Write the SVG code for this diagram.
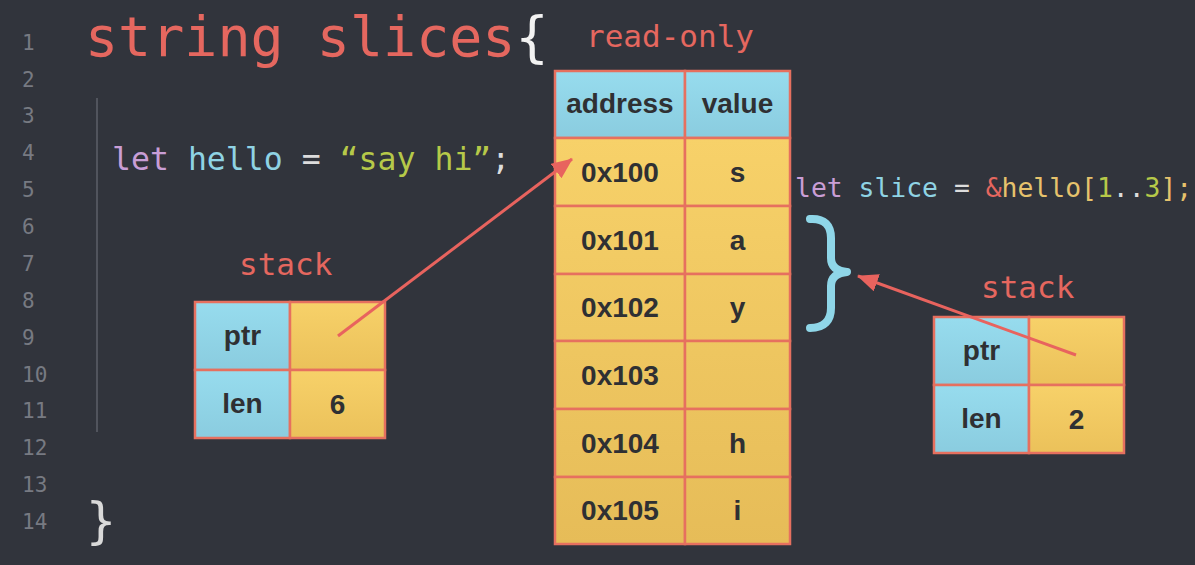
<svg xmlns="http://www.w3.org/2000/svg" width="1195" height="565" viewBox="0 0 1195 565">
<defs>
<linearGradient id="yel" x1="0" y1="0" x2="0" y2="1"><stop offset="0" stop-color="#f7d169"/><stop offset="1" stop-color="#ebc15a"/></linearGradient>
<linearGradient id="cya" x1="0" y1="0" x2="0" y2="1"><stop offset="0" stop-color="#97dcee"/><stop offset="1" stop-color="#8accdf"/></linearGradient>
<linearGradient id="tyel" gradientUnits="userSpaceOnUse" x1="0" y1="138" x2="0" y2="544"><stop offset="0" stop-color="#f7d169"/><stop offset="1" stop-color="#e6bc58"/></linearGradient>
<marker id="ah" markerUnits="userSpaceOnUse" markerWidth="24" markerHeight="20" refX="20" refY="9" orient="auto"><path d="M0,0 L21,9 L0,18 Z" fill="#e8635e"/></marker>
<style>
.mono{font-family:"DejaVu Sans Mono","Liberation Mono",monospace}
.ln{fill:#777a82;font-size:21px}
.red{fill:#e5675f}
.cell{stroke:#e6705f;stroke-width:2.5}
.lbl{font-family:"Liberation Sans",Arial,sans-serif;font-weight:bold;font-size:28px;fill:#2f3033;text-anchor:middle}
.kw{fill:#c99ed6}.id{fill:#8fd3e4}.op{fill:#dcdcdc}.str{fill:#b6c949}.yl{fill:#e6c26c}
.conn{stroke:#e8635e;stroke-width:3;fill:none}
</style>
</defs>
<rect width="1195" height="565" fill="#31343c"/>
<g id="line-numbers" class="mono ln">
<text x="22" y="50">1</text><text x="22" y="87">2</text><text x="22" y="123">3</text><text x="22" y="160">4</text><text x="22" y="197">5</text><text x="22" y="234">6</text><text x="22" y="271">7</text><text x="22" y="308">8</text><text x="22" y="345">9</text><text x="22" y="382">10</text><text x="22" y="418">11</text><text x="22" y="455">12</text><text x="22" y="492">13</text><text x="22" y="529">14</text>
</g>
<g id="title"><text class="mono" x="85" y="56" font-size="55"><tspan class="red">string slices</tspan><tspan fill="#f2f2f2">{</tspan></text></g>
<line x1="97" y1="98" x2="97" y2="432" stroke="#5c5f68" stroke-width="1.5"/>
<g id="code-hello"><text class="mono" x="112" y="170" font-size="31.5"><tspan class="kw">let</tspan> <tspan class="id">hello</tspan> <tspan class="op">=</tspan> <tspan class="str">“say hi”</tspan><tspan class="op">;</tspan></text></g>
<g id="code-slice"><text class="mono" x="795" y="197" font-size="26.4"><tspan class="kw">let</tspan> <tspan class="id">slice</tspan> <tspan class="op">=</tspan> <tspan class="red">&amp;</tspan><tspan class="yl">hello[</tspan><tspan class="str">1</tspan><tspan class="op">..</tspan><tspan class="str">3</tspan><tspan class="yl">];</tspan></text></g>
<g id="close-brace"><text class="mono" x="86" y="538" font-size="50" fill="#d9d9d9">}</text></g>

<g id="readonly-table">
<text class="mono red" x="586" y="47" font-size="31">read-only</text>
<rect class="cell" x="555" y="71" width="130" height="67" fill="url(#cya)"/>
<rect class="cell" x="685" y="71" width="105" height="67" fill="url(#cya)"/>
<text class="lbl" x="620" y="113">address</text><text class="lbl" x="737.5" y="113">value</text>
<g fill="url(#tyel)">
<rect class="cell" x="555" y="138" width="130" height="68"/><rect class="cell" x="685" y="138" width="105" height="68"/>
<rect class="cell" x="555" y="206" width="130" height="68"/><rect class="cell" x="685" y="206" width="105" height="68"/>
<rect class="cell" x="555" y="274" width="130" height="67"/><rect class="cell" x="685" y="274" width="105" height="67"/>
<rect class="cell" x="555" y="341" width="130" height="68"/><rect class="cell" x="685" y="341" width="105" height="68"/>
<rect class="cell" x="555" y="409" width="130" height="68"/><rect class="cell" x="685" y="409" width="105" height="68"/>
<rect class="cell" x="555" y="477" width="130" height="67"/><rect class="cell" x="685" y="477" width="105" height="67"/>
</g>
<text class="lbl" x="620" y="182">0x100</text><text class="lbl" x="737.5" y="182">s</text>
<text class="lbl" x="620" y="250">0x101</text><text class="lbl" x="737.5" y="250">a</text>
<text class="lbl" x="620" y="317">0x102</text><text class="lbl" x="737.5" y="317">y</text>
<text class="lbl" x="620" y="385">0x103</text>
<text class="lbl" x="620" y="453">0x104</text><text class="lbl" x="737.5" y="453">h</text>
<text class="lbl" x="620" y="520">0x105</text><text class="lbl" x="737.5" y="520">i</text>
</g>

<g id="stack-hello">
<text class="mono red" x="239" y="275" font-size="31">stack</text>
<rect class="cell" x="195" y="302" width="95" height="68" fill="url(#cya)"/>
<rect class="cell" x="290" y="302" width="95" height="68" fill="url(#yel)"/>
<rect class="cell" x="195" y="370" width="95" height="68" fill="url(#cya)"/>
<rect class="cell" x="290" y="370" width="95" height="68" fill="url(#yel)"/>
<text class="lbl" x="242.5" y="345">ptr</text><text class="lbl" x="242.5" y="413">len</text><text class="lbl" x="337.5" y="414">6</text>
</g>

<g id="stack-slice">
<text class="mono red" x="981" y="298" font-size="31">stack</text>
<rect class="cell" x="934" y="317" width="95" height="68" fill="url(#cya)"/>
<rect class="cell" x="1029" y="317" width="95" height="68" fill="url(#yel)"/>
<rect class="cell" x="934" y="385" width="95" height="68" fill="url(#cya)"/>
<rect class="cell" x="1029" y="385" width="95" height="68" fill="url(#yel)"/>
<text class="lbl" x="981.5" y="360">ptr</text><text class="lbl" x="981.5" y="428">len</text><text class="lbl" x="1076.5" y="429">2</text>
</g>

<g id="slice-brace"><path d="M810,219 C825,218 831,226 831,238 L831,258 C831,266 836,271 847,272 C836,273 831,278 831,286 L831,308 C831,320 825,328 810,328" fill="none" stroke="#8fd6e8" stroke-width="8" stroke-linecap="round" stroke-linejoin="round"/></g>

<g id="connectors">
<line class="conn" x1="338" y1="336" x2="572" y2="159" marker-end="url(#ah)"/>
<line class="conn" x1="1076" y1="355" x2="858" y2="276" marker-end="url(#ah)"/>
</g>
</svg>
